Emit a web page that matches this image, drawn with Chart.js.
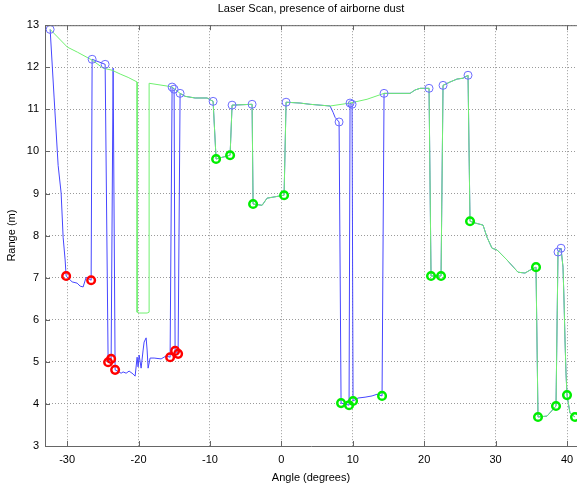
<!DOCTYPE html>
<html>
<head>
<meta charset="utf-8">
<script src="https://cdn.jsdelivr.net/npm/chart.js@4.4.1/dist/chart.umd.min.js"></script>
<style>
  html, body { margin: 0; padding: 0; background: #fff; }
  #wrap { width: 577px; height: 487px; }
</style>
</head>
<body>
<div id="wrap"><canvas id="scan" width="577" height="487"></canvas></div>
<script>
// Raw laser scan (blue line)
const rawAngle = [-32.38, -31.82, -31.26, -30.84, -30.56, -30.28, -30.14, -29.30, -28.60, -28.18, -27.76, -27.34, -26.64,
  -26.50, -24.68, -24.26, -23.84, -23.56, -23.28, -22.44, -22.16, -21.74, -21.32, -20.76, -20.48, -20.20, -20.06,
  -19.92, -19.64, -19.36, -19.22, -18.94, -18.80, -18.66, -18.38, -17.82, -16.84, -16.14, -15.58, -15.30, -15.02,
  -14.88, -14.46, -14.18, -13.48, -12.08, -10.40, -9.56, -9.14, -8.30, -7.18, -6.90, -4.10, -3.96, -2.70, -2.00,
  -1.30, 0.38, 0.66, 2.62, 4.02, 5.42, 6.82, 7.24, 7.52, 8.08, 8.36, 9.48, 9.62, 9.90, 10.04, 10.74, 11.72, 12.70,
  13.40, 14.10, 14.38, 16.62, 18.02, 18.72, 19.42, 20.68, 20.96, 22.36, 22.64, 23.62, 24.60, 25.44, 26.14, 26.42,
  27.12, 28.24, 28.80, 29.50, 30.20, 31.60, 33.14, 34.12, 34.82, 35.66, 35.94, 37.20, 38.46, 38.74, 39.16, 39.44,
  39.58, 39.72, 39.86, 40.00, 40.42, 41.12];
const rawRange = [12.90, 11.27, 9.67, 9.01, 7.96, 7.42, 7.04, 6.90, 6.87, 6.80, 6.78, 7.01, 6.94,
  12.19, 12.07, 4.99, 5.07, 11.98, 4.81, 4.73, 4.76, 4.73, 4.78, 4.71, 4.66, 5.11, 4.88,
  5.16, 4.85, 5.28, 5.47, 5.57, 5.28, 4.85, 5.09, 5.09, 5.07, 5.14, 5.11, 11.53, 11.48,
  5.26, 5.19, 11.38, 11.31, 11.27, 11.27, 11.19, 9.82, 9.86, 9.91, 11.10, 11.12, 8.75, 8.72, 8.89,
  8.91, 8.96, 11.17, 11.15, 11.12, 11.10, 11.08, 10.93, 10.81, 10.70, 4.02, 3.97, 11.15, 11.12, 4.07, 4.14, 4.16, 4.19,
  4.23, 4.19, 11.38, 11.38, 11.38, 11.46, 11.50, 11.50, 7.04, 7.04, 11.57, 11.65, 11.72, 11.74, 11.81, 8.34,
  8.30, 8.25, 7.96, 7.70, 7.66, 7.42, 7.13, 7.11, 7.18, 7.25, 3.69, 3.71, 3.95, 7.61, 7.70, 7.25,
  6.47, 5.52, 4.73, 4.21, 3.78, 3.69];

// Filtered scan (green line)
const filtAngle = [-32.38, -29.97, -28.57, -26.50, -24.96, -23.70, -22.58, -21.46, -20.20, -20.20, -19.92, -18.80,
  -18.52, -18.52, -15.86, -15.30, -14.18, -13.48, -12.08, -10.40, -9.56, -9.14, -8.30, -7.18, -6.90, -4.10, -3.96,
  -2.70, -2.00, -1.30, 0.38, 0.66, 2.62, 4.02, 5.42, 6.82, 9.62, 12.00, 14.38, 16.62, 18.02, 18.72, 19.42, 20.68,
  20.96, 22.36, 22.64, 23.62, 24.60, 25.44, 26.14, 26.42, 27.12, 28.24, 28.80, 29.50, 30.20, 31.60, 33.14, 34.12,
  34.82, 35.66, 35.94, 37.20, 38.46, 38.74, 39.16, 39.44, 39.58, 39.72, 39.86, 40.00, 40.42, 41.12];
const filtRange = [12.90, 12.48, 12.36, 12.17, 11.98, 11.93, 11.84, 11.76, 11.65, 6.18, 6.16, 6.16,
  6.18, 11.62, 11.55, 11.53, 11.38, 11.31, 11.27, 11.27, 11.19, 9.82, 9.86, 9.91, 11.10, 11.12, 8.75,
  8.72, 8.89, 8.91, 8.96, 11.17, 11.15, 11.12, 11.10, 11.08, 11.15, 11.24, 11.38, 11.38, 11.38, 11.46, 11.50, 11.50,
  7.04, 7.04, 11.57, 11.65, 11.72, 11.74, 11.81, 8.34, 8.30, 8.25, 7.96, 7.70, 7.66, 7.42, 7.13, 7.11,
  7.18, 7.25, 3.69, 3.71, 3.95, 7.61, 7.70, 7.25, 6.47, 5.52, 4.73, 4.21, 3.78, 3.69];

// Marked points
const edgeAngle = [-32.38, -26.50, -24.68, -15.30, -15.02, -14.18, -9.56, -6.90, -4.10, 0.66, 8.08, 9.62, 9.90,
  14.38, 20.68, 22.64, 26.14, 38.74, 39.16];
const edgeRange = [12.90, 12.19, 12.07, 11.53, 11.48, 11.38, 11.19, 11.10, 11.12, 11.17, 10.70, 11.15, 11.12,
  11.38, 11.50, 11.57, 11.81, 7.61, 7.70];
const dustAngle = [-30.14, -26.64, -24.26, -23.84, -23.28, -15.58, -14.88, -14.46];
const dustRange = [7.04, 6.94, 4.99, 5.07, 4.81, 5.11, 5.26, 5.19];
const solidAngle = [-9.14, -7.18, -3.96, 0.38, 8.36, 9.48, 10.04, 14.10, 20.96, 22.36, 26.42, 35.66, 35.94,
  38.46, 40.00, 41.12];
const solidRange = [9.82, 9.91, 8.75, 8.96, 4.02, 3.97, 4.07, 4.19, 7.04, 7.04, 8.34, 7.25, 3.69,
  3.95, 4.21, 3.69];

const xTicks = [-30, -20, -10, 0, 10, 20, 30, 40];
const yTicks = [3, 4, 5, 6, 7, 8, 9, 10, 11, 12, 13];

const pts = (xs, ys) => xs.map((x, i) => ({ x: x, y: ys[i] }));

const FONT = "'Liberation Sans', Arial, Helvetica, sans-serif";

// MATLAB-ish box: top edge plus inward tick marks
const axesBox = {
  id: "axesBox",
  afterDatasetsDraw(chart) {
    const { ctx, chartArea: a, scales } = chart;
    ctx.save();
    ctx.strokeStyle = "#666";
    ctx.lineWidth = 1;
    ctx.beginPath();
    ctx.moveTo(a.left, a.top + 0.5);
    ctx.lineTo(a.right, a.top + 0.5);
    for (const v of xTicks) {
      const px = Math.round(scales.x.getPixelForValue(v)) + 0.5;
      ctx.moveTo(px, a.bottom);
      ctx.lineTo(px, a.bottom - 5);
      ctx.moveTo(px, a.top);
      ctx.lineTo(px, a.top + 5);
    }
    for (const v of yTicks) {
      const py = Math.round(scales.y.getPixelForValue(v)) + 0.5;
      ctx.moveTo(a.left, py);
      ctx.lineTo(a.left + 5, py);
    }
    ctx.stroke();
    ctx.restore();
  }
};

new Chart(document.getElementById("scan"), {
  type: "scatter",
  data: {
    datasets: [
      {
        label: "edges",
        data: pts(edgeAngle, edgeRange),
        showLine: false,
        pointStyle: "circle",
        pointRadius: 4,
        borderColor: "#6b6bff",
        backgroundColor: "rgba(0,0,0,0)",
        borderWidth: 1,
      },
      {
        label: "dust",
        data: pts(dustAngle, dustRange),
        showLine: false,
        pointRadius: 3.8,
        borderColor: "#ff0000",
        backgroundColor: "rgba(0,0,0,0)",
        borderWidth: 2.5,
      },
      {
        label: "solid",
        data: pts(solidAngle, solidRange),
        showLine: false,
        pointRadius: 3.8,
        borderColor: "#00ee00",
        backgroundColor: "rgba(0,0,0,0)",
        borderWidth: 2.5,
      },
      {
        label: "filtered",
        data: pts(filtAngle, filtRange),
        showLine: true,
        pointRadius: 0,
        borderColor: "#70f070",
        borderWidth: 1,
        tension: 0,
      },
      {
        label: "raw",
        data: pts(rawAngle, rawRange),
        showLine: true,
        pointRadius: 0,
        borderColor: "#4646ff",
        borderWidth: 1,
        tension: 0,
      },
    ],
  },
  options: {
    responsive: false,
    animation: false,
    events: [],
    layout: { padding: 0, autoPadding: false },
    plugins: {
      legend: { display: false },
      tooltip: { enabled: false },
      title: {
        display: true,
        fullSize: false,
        text: "Laser Scan, presence of airborne dust",
        color: "#000",
        font: { family: FONT, size: 11, weight: "normal" },
        padding: { top: 2, bottom: 10 },
      },
    },
    scales: {
      x: {
        type: "linear",
        min: -33.1,
        max: 41.4,
        afterBuildTicks: (s) => { s.ticks = xTicks.map((v) => ({ value: v })); },
        afterFit: (s) => { s.height = 41; s.paddingLeft = 0; s.paddingRight = 0; },
        ticks: { color: "#000", padding: 7, maxRotation: 0, font: { family: FONT, size: 11 } },
        grid: { color: "#9a9a9a", drawTicks: false },
        border: { color: "#666", width: 1, dash: [1, 2] },
        title: {
          display: true,
          text: "Angle (degrees)",
          color: "#000",
          font: { family: FONT, size: 11 },
          padding: { top: 0, bottom: 2 },
        },
      },
      y: {
        type: "linear",
        min: 3,
        max: 13,
        afterBuildTicks: (s) => { s.ticks = yTicks.map((v) => ({ value: v })); },
        afterFit: (s) => { s.width = 45; },
        ticks: { color: "#000", padding: 6, font: { family: FONT, size: 11 } },
        grid: { color: "#9a9a9a", drawTicks: false },
        border: { color: "#666", width: 1, dash: [1, 2] },
        title: {
          display: true,
          text: "Range (m)",
          color: "#000",
          font: { family: FONT, size: 11 },
          padding: { top: 5, bottom: 0 },
        },
      },
    },
  },
  plugins: [axesBox],
});
</script>
</body>
</html>
